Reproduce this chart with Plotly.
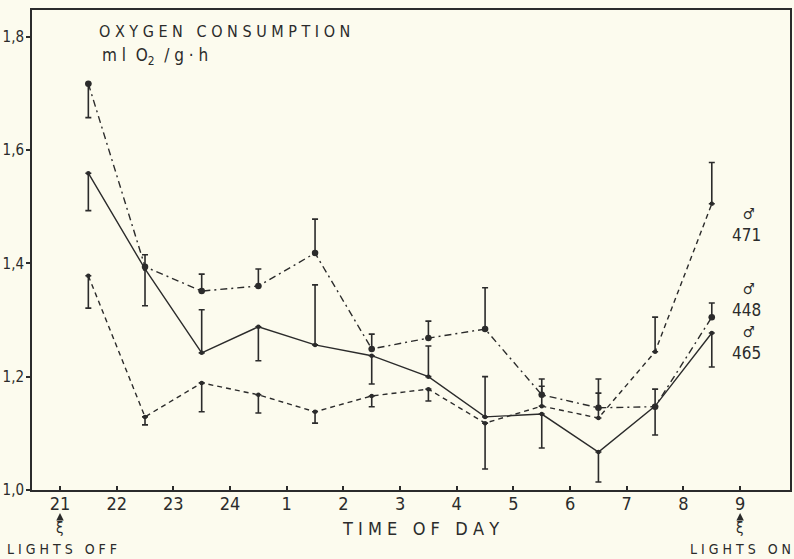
import plotly.graph_objects as go

# ---- data ----
hour_labels = ["21", "22", "23", "24", "1", "2", "3", "4", "5", "6", "7", "8", "9"]
hour_pos = list(range(len(hour_labels)))          # 21 -> 0 ... 9 -> 12
mid_pos = [i + 0.5 for i in range(12)]            # 21.5 ... 8.5

y_ticks = [1.0, 1.2, 1.4, 1.6, 1.8]
y_tick_text = ["1,0", "1,2", "1,4", "1,6", "1,8"]

# animal 465 (solid)
m465 = [1.559, 1.390, 1.242, 1.288, 1.256, 1.237, 1.200, 1.129, 1.134, 1.067, 1.148, 1.277]
p465 = [0, 0.025, 0.076, 0, 0.106, 0, 0.054, 0.071, 0, 0, 0, 0]
n465 = [0.066, 0.065, 0, 0.060, 0, 0.050, 0, 0, 0.060, 0.053, 0.051, 0.060]

# animal 448 (dash-dot)
m448 = [1.717, 1.394, 1.351, 1.360, 1.418, 1.249, 1.268, 1.284, 1.168, 1.145, 1.147, 1.305]
p448 = [0, 0, 0.030, 0.030, 0.060, 0.026, 0.030, 0.073, 0.028, 0.051, 0.031, 0.025]
n448 = [0.060, 0, 0, 0, 0, 0, 0, 0, 0, 0, 0, 0]

# animal 471 (dashed)
m471 = [1.378, 1.129, 1.189, 1.168, 1.138, 1.166, 1.178, 1.118, 1.148, 1.127, 1.244, 1.505]
p471 = [0, 0, 0, 0, 0, 0, 0, 0, 0.035, 0.044, 0.061, 0.073]
n471 = [0.057, 0.014, 0.051, 0.032, 0.020, 0.019, 0.021, 0.081, 0, 0, 0, 0]

ink = "#2b2b2b"
bg = "#fcfbee"
font_main = "DejaVu Sans Condensed, Liberation Sans Narrow, DejaVu Sans"

fig = go.Figure()

def add_series(m, p, n, dash, msize, name):
    fig.add_trace(go.Scatter(
        x=mid_pos, y=m, mode="lines+markers", name=name,
        line=dict(color=ink, width=1.4, dash=dash),
        marker=dict(color=ink, size=msize),
        error_y=dict(type="data", symmetric=False, array=p, arrayminus=n,
                     color=ink, thickness=1.6, width=3),
        showlegend=False,
    ))

add_series(m471, p471, n471, "5px,4px", 4.5, "471")
add_series(m465, p465, n465, "solid", 4.5, "465")
add_series(m448, p448, n448, "7px,4px,2px,4px", 6.5, "448")

L, R, T, B = 32, 4, 10, 69
W, H = 794, 559
pw, ph = W - L - R, H - T - B

def px(x):
    return (x - L) / pw

def py(y):
    return (H - B - y) / ph

fig.update_layout(
    width=W, height=H,
    margin=dict(l=L, r=R, t=T, b=B, autoexpand=False),
    paper_bgcolor=bg, plot_bgcolor=bg,
    font=dict(family=font_main, color=ink, size=16),
)

fig.update_xaxes(
    range=[-0.494, 12.88], tickvals=hour_pos, ticktext=hour_labels,
    showline=True, linecolor=ink, linewidth=2, mirror=True,
    ticks="inside", ticklen=4, tickcolor=ink, tickwidth=1.5,
    showgrid=False, zeroline=False, automargin=False,
    tickfont=dict(size=18), ticklabelstandoff=-4,
)
fig.update_yaxes(
    range=[1.0, 1.847], tickvals=y_ticks, ticktext=y_tick_text,
    showline=True, linecolor=ink, linewidth=2, mirror=True,
    ticks="outside", ticklen=4, tickcolor=ink, tickwidth=1.5,
    showgrid=False, zeroline=False, automargin=False,
    tickfont=dict(size=15), ticklabelstandoff=-1,
)

texts = [
    (97, 32, "O X Y G E N&nbsp;&nbsp;&nbsp;C O N S U M P T I O N", 16, "left"),
    (100, 57, "m l&nbsp;&nbsp;O<sub>2</sub>&nbsp;&nbsp;/ g · h", 17, "left"),
    (420, 528, "T I M E&nbsp;&nbsp;&nbsp;O F&nbsp;&nbsp;&nbsp;D A Y", 18, "center"),
    (5, 549, "L I G H T S&nbsp;&nbsp;&nbsp;O F F", 14, "left"),
    (793, 549, "L I G H T S&nbsp;&nbsp;&nbsp;O N", 14, "right"),
]
for x, y, t, s, anc in texts:
    fig.add_annotation(xref="paper", yref="paper", x=px(x), y=py(y),
                       xanchor=anc, yanchor="middle", showarrow=False,
                       text=t, font=dict(size=s, color=ink))

# animal labels
for lbl, yy in [("471", 225), ("448", 300), ("465", 343)]:
    fig.add_annotation(xref="paper", yref="paper", x=px(746), y=py(yy),
                       xanchor="center", yanchor="middle", showarrow=False,
                       text="<span style='font-size:15px'>&nbsp;♂</span><br>" + lbl,
                       font=dict(size=17, color=ink))

# lights off / on markers (arrow + squiggle)
for pos in [0, 12]:
    fig.add_annotation(xref="x", yref="paper", x=pos, y=py(513),
                       ax=0, ay=15, axref="pixel", ayref="pixel",
                       showarrow=True, arrowhead=2, arrowsize=1, arrowwidth=1.5,
                       arrowcolor=ink, text="ξ", font=dict(size=15, color=ink))

post = ("document.body.style.margin='0';"
        "document.body.style.background='%s';"
        "document.body.style.overflow='hidden';" % bg)
fig.write_html("out.html", post_script=post, config={"displayModeBar": False})
